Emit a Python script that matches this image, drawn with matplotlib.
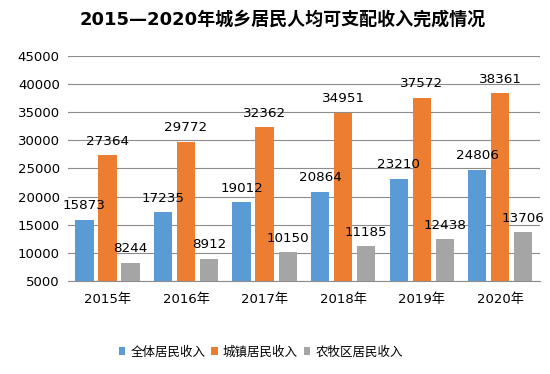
import matplotlib

matplotlib.use("Agg")
import matplotlib.pyplot as plt
import numpy as np

plt.rcParams["font.family"] = ["DejaVu Sans", "Noto Sans CJK SC"]

years = ["2015年", "2016年", "2017年", "2018年", "2019年", "2020年"]
all_income = [15873, 17235, 19012, 20864, 23210, 24806]
urban_income = [27364, 29772, 32362, 34951, 37572, 38361]
rural_income = [8244, 8912, 10150, 11185, 12438, 13706]
series_names = ["全体居民收入", "城镇居民收入", "农牧区居民收入"]
yticks = [5000, 10000, 15000, 20000, 25000, 30000, 35000, 40000, 45000]

BLUE = "#5b9bd5"
ORANGE = "#ed7d31"
GRAY = "#a5a5a5"
GRID = "#8c8c8c"

fig = plt.figure(figsize=(5.5, 3.74), dpi=100, facecolor="white")
ax = fig.add_axes([0.124, 0.2487, 0.857, 0.6016])

x = np.arange(len(years))
w = 0.232
off = 0.293
for k, (vals, col) in enumerate(zip([all_income, urban_income, rural_income],
                                    [BLUE, ORANGE, GRAY])):
    xs = x + (k - 1) * off
    ax.bar(xs, np.array(vals) - 5000, bottom=5000, width=w, color=col,
           label=series_names[k], zorder=3)
    for xi, v in zip(xs, vals):
        ax.annotate(str(v), (xi, v), xytext=(0, 5.4), textcoords="offset points",
                    ha="center", va="bottom", fontsize=9.7, color="black",
                    zorder=4)

ax.set_xlim(-0.5, len(years) - 0.5)
ax.set_ylim(5000, 45000)
ax.set_yticks(yticks)
ax.set_yticklabels([str(t) for t in yticks], fontsize=9.5)
ax.set_xticks(x)
ax.set_xticklabels(years, fontsize=9.5)
ax.tick_params(axis="y", length=0, pad=6)
ax.tick_params(axis="x", length=0, pad=8.5)
ax.grid(axis="y", color=GRID, linewidth=0.8, zorder=0)
for s in ("top", "right", "left"):
    ax.spines[s].set_visible(False)
ax.spines["bottom"].set_color(GRID)

fig.text(0.514, 0.947, "2015—2020年城乡居民人均可支配收入完成情况",
         ha="center", va="center", fontsize=13, fontweight="bold")

fig.legend(loc="center", bbox_to_anchor=(0.474, 0.059), ncol=3, frameon=False,
           fontsize=9, handlelength=0.55, handleheight=0.55,
           handletextpad=0.4, columnspacing=0.45)

fig.savefig("out.png", dpi=100, facecolor="white")
